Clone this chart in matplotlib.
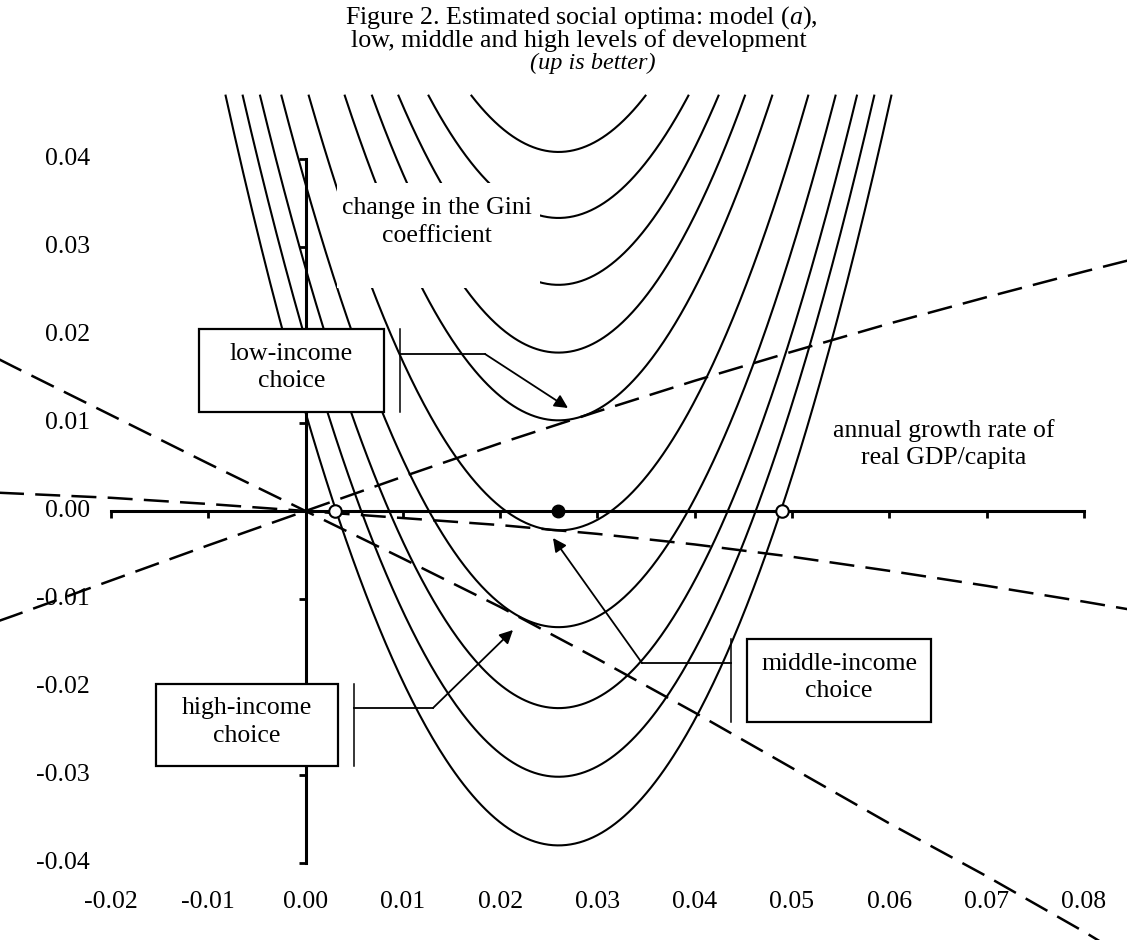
import numpy as np
import matplotlib
matplotlib.use("Agg")
import matplotlib.pyplot as plt
from matplotlib.patches import Rectangle

plt.rcParams["font.family"] = ["Liberation Serif", "DejaVu Serif"]
plt.rcParams["mathtext.fontset"] = "custom"
plt.rcParams["mathtext.rm"] = "Liberation Serif"
plt.rcParams["mathtext.it"] = "Liberation Serif:italic"

# --- data ---
# social indifference curves: level (Gini change) at the vertex of each curve
curve_centre = 0.0260
curve_levels = [0.0408, 0.0333, 0.0257, 0.0180, 0.0103,
                -0.0022, -0.0132, -0.0224, -0.0302, -0.0380]
curve_k = [80.0, 78.0, 79.5, 79.5, 76.5, 75.0, 74.5, 74.0, 73.5, 72.8]  # curvature of each
curve_top = 0.0472      # curves end at the top of the plot area

# growth/inequality tradeoffs, one per level of development
trade_x = [-0.04, -0.03, -0.02, -0.01, 0.00, 0.01, 0.02, 0.03,
           0.04, 0.05, 0.06, 0.07, 0.08, 0.09]
low_y = [-0.0158, -0.0119, -0.0079, -0.0039, 0.0, 0.0039, 0.0077, 0.0113,
         0.0148, 0.0181, 0.0213, 0.0243, 0.0272, 0.0300]
middle_y = [0.0025, 0.0020, 0.0015, 0.0008, 0.0, -0.0008, -0.0016, -0.0026,
            -0.0038, -0.0052, -0.0068, -0.0085, -0.0103, -0.0122]
high_y = [0.0220, 0.0164, 0.0109, 0.0054, 0.0, -0.0054, -0.0109, -0.0168,
          -0.0229, -0.0292, -0.0355, -0.0415, -0.0478, -0.0545]

optimum_x = [0.0259]
open_x = [0.003, 0.049]

xticks = [-0.02, -0.01, 0.00, 0.01, 0.02, 0.03, 0.04, 0.05, 0.06, 0.07, 0.08]
yticks = [-0.04, -0.03, -0.02, -0.01, 0.00, 0.01, 0.02, 0.03, 0.04]

# --- layout (pixels of the 1127x940 canvas) ---
W, H = 1127, 940
X0, SX = 305.5, 9730.0   # pixel of x=0, pixels per unit
Y0, SY = 511.0, 8800.0   # pixel of y=0, pixels per unit
FS = 18.5
LS = 1.3


def P(px, py):
    """pixel position -> axes fraction (axes fill the figure)"""
    return px / W, 1 - py / H


fig = plt.figure(figsize=(W / 100, H / 100), dpi=100)
ax = fig.add_axes([0, 0, 1, 1])
ax.set_xlim(-X0 / SX, (W - X0) / SX)
ax.set_ylim((Y0 - H) / SY, Y0 / SY)
ax.patch.set_alpha(0)

for m, k in zip(curve_levels, curve_k):
    half = np.sqrt((curve_top - m) / k)
    xs = np.linspace(curve_centre - half, curve_centre + half, 300)
    ax.plot(xs, m + k * (xs - curve_centre) ** 2, color="k", lw=1.5, zorder=2)

for ys in (low_y, middle_y, high_y):
    ax.plot(trade_x, ys, color="k", lw=1.8, dashes=(10, 4.5), zorder=2)

# axes crossing at the origin
for side in ("top", "right"):
    ax.spines[side].set_visible(False)
ax.spines["left"].set_position(("data", 0))
ax.spines["bottom"].set_position(("data", 0))
ax.spines["left"].set_bounds(yticks[0], yticks[-1])
ax.spines["bottom"].set_bounds(xticks[0], xticks[-1])
for side in ("left", "bottom"):
    ax.spines[side].set_linewidth(2.2)
    ax.spines[side].set_zorder(2.5)
ax.set_xticks(xticks)
ax.set_yticks(yticks)
ax.tick_params(direction="out", length=5, width=2, labelbottom=False, labelleft=False)

# tick labels sit at the edges of the plot area
for xv in xticks:
    ax.text(xv, (Y0 - 902) / SY, f"{xv:.2f}", ha="center", va="center", fontsize=FS, zorder=1)
for yv in yticks:
    ax.text((90 - X0) / SX, yv, f"{yv:.2f}", ha="right", va="center", fontsize=FS, zorder=1)

ax.plot(optimum_x, [0], "o", ms=9, color="k", zorder=4)
ax.plot(open_x, [0] * len(open_x), "o", ms=9, mfc="white", mec="k", mew=1.5, zorder=4)

# axis labels on white background
x, y = P(337, 288)
ax.add_patch(Rectangle((x, y), 203 / W, 105 / H, transform=ax.transAxes,
                       facecolor="white", edgecolor="none", zorder=4))
ax.text(*P(437, 222), "change in the Gini\ncoefficient", transform=ax.transAxes,
        ha="center", va="center", fontsize=FS, linespacing=LS, zorder=5)
ax.text(*P(944, 444), "annual growth rate of\nreal GDP/capita", transform=ax.transAxes,
        ha="center", va="center", fontsize=FS, linespacing=LS, zorder=5)

# callout boxes: (box left, top, right, bottom), bracket x, elbow, arrow tip
callouts = [
    ("low-income\nchoice", (199, 329, 384, 412), 400, (485, 354), (568, 408)),
    ("middle-income\nchoice", (747, 639, 931, 722), 731, (642, 663), (553, 538)),
    ("high-income\nchoice", (156, 684, 338, 766), 354, (433, 708), (513, 630)),
]
for label, (l, t, r, b), bx, (ex, ey), (tx, ty) in callouts:
    ax.add_patch(Rectangle(P(l, b), (r - l) / W, (b - t) / H, transform=ax.transAxes,
                           facecolor="white", edgecolor="k", lw=1.6, zorder=6))
    ax.text(*P((l + r) / 2, (t + b) / 2 - 3), label, transform=ax.transAxes,
            ha="center", va="center", fontsize=FS, linespacing=LS, zorder=7)
    ax.plot(*zip(P(bx, t), P(bx, b)), transform=ax.transAxes, color="k", lw=1.1, zorder=6)
    ax.plot(*zip(P(bx, ey), P(ex, ey)), transform=ax.transAxes, color="k", lw=1.3, zorder=6)
    ax.annotate("", xy=P(tx, ty), xytext=P(ex, ey), xycoords="axes fraction",
                arrowprops=dict(arrowstyle="-|>", color="k", lw=1.3, mutation_scale=20,
                                shrinkA=0, shrinkB=0), zorder=6)

# title
fig.text(581 / W, 1 - 18 / H, r"Figure 2. Estimated social optima: model ($\mathit{a}$),",
         ha="center", va="center", fontsize=18.7)
fig.text(579 / W, 1 - 41 / H, "low, middle and high levels of development",
         ha="center", va="center", fontsize=18.7)
fig.text(593 / W, 1 - 63 / H, "(up is better)", ha="center", va="center",
         fontsize=17.5, style="italic")

fig.savefig("out.png", dpi=100)
